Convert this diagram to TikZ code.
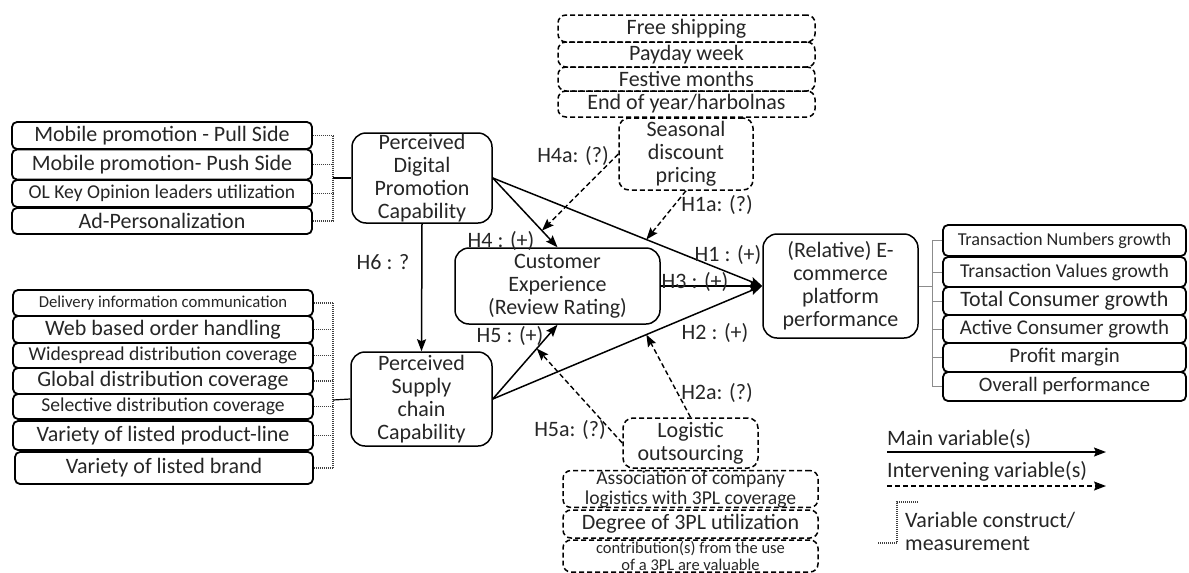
\documentclass[tikz,border=0pt]{standalone}
\usepackage{fontspec}
\setmainfont{Carlito}
\usetikzlibrary{arrows.meta}
\newcommand{\fsbig}{\fontsize{22}{23}\selectfont}
\newcommand{\fsmid}{\fontsize{19.6}{20}\selectfont}
\newcommand{\fssml}{\fontsize{16.7}{18}\selectfont}
\newcommand{\fsrgt}{\fontsize{18.2}{19}\selectfont}

\begin{document}
\begin{tikzpicture}[x=1pt,y=-1pt,
    var/.style={draw, line width=1.5pt, rounded corners=14pt, align=center, inner sep=0pt, text=black!85, font=\fsbig},
    dashvar/.style={var, dash pattern=on 5pt off 3pt, rounded corners=10pt},
    item/.style={draw, line width=1.8pt, rounded corners=5pt, inner sep=0pt, text=black!85, font=\fsbig},
    dashitem/.style={item, line width=1.5pt, dash pattern=on 5pt off 3pt, rounded corners=8pt, align=center},
    hlab/.style={inner sep=0pt, text=black!85, font=\fsbig},
    mainarrow/.style={line width=1.5pt, -{Stealth[length=12pt,width=9pt,inset=2pt]}},
    modarrow/.style={mainarrow, line width=1.4pt, dash pattern=on 5pt off 3pt},
    measure/.style={line width=1.1pt, black!75, dash pattern=on 1pt off 1pt},
    rbracket/.style={line width=0.9pt, black!45}]
\useasboundingbox (0,0) rectangle (1189,573);

\node[item, minimum width=300pt, minimum height=27pt] (pd1) at (162,135.5) {Mobile promotion - Pull Side};
\node[item, minimum width=300pt, minimum height=30pt] (pd2) at (162,164.5) {Mobile promotion- Push Side};
\node[item, minimum width=300pt, minimum height=27pt, font=\fsmid] (pd3) at (162,193.5) {OL Key Opinion leaders utilization};
\node[item, minimum width=300pt, minimum height=26pt] (pd4) at (162,221) {Ad-Personalization};

\node[item, minimum width=300pt, minimum height=26pt, font=\fssml] (sc1) at (163,303) {Delivery information communication};
\node[item, minimum width=300pt, minimum height=27pt] (sc2) at (163,329.5) {Web based order handling};
\node[item, minimum width=300pt, minimum height=25pt, font=\fsmid] (sc3) at (163,355.5) {Widespread distribution coverage};
\node[item, minimum width=300pt, minimum height=26pt] (sc4) at (163,381) {Global distribution coverage};
\node[item, minimum width=300pt, minimum height=25pt, font=\fsmid] (sc5) at (163,406.5) {Selective distribution coverage};
\node[item, minimum width=300pt, minimum height=29pt] (sc6) at (163,435.5) {Variety of listed product-line};
\node[item, minimum width=298pt, minimum height=32pt] (sc7) at (164,468) {Variety of listed brand};

\node[var, minimum width=140pt, minimum height=90pt] (pdpc) at (422,178) {Perceived\\Digital\\Promotion\\Capability};
\node[var, minimum width=141pt, minimum height=94pt] (pscc) at (421.5,399) {Perceived\\Supply\\chain\\Capability};
\node[var, minimum width=205pt, minimum height=76pt] (ce) at (557.5,286) {Customer\\Experience\\(Review Rating)};
\node[var, minimum width=155pt, minimum height=104pt] (ecom) at (840.5,286) {(Relative) E-\\commerce\\platform\\performance};

\node[item, minimum width=243pt, minimum height=31pt, font=\fsrgt] (r1) at (1064.5,240.5) {Transaction Numbers growth};
\node[item, minimum width=243pt, minimum height=30pt, font=\fsmid] (r2) at (1064.5,272) {Transaction Values growth};
\node[item, minimum width=243pt, minimum height=28pt] (r3) at (1064.5,301) {Total Consumer growth};
\node[item, minimum width=243pt, minimum height=28pt, font=\fontsize{20.9}{22}\selectfont] (r4) at (1064.5,329) {Active Consumer growth};
\node[item, minimum width=243pt, minimum height=29pt, font=\fontsize{20.8}{22}\selectfont] (r5) at (1064.5,357.5) {Profit margin};
\node[item, minimum width=243pt, minimum height=29pt, font=\fontsize{20.5}{22}\selectfont] (r6) at (1064.5,386.5) {Overall performance};

\node[dashitem, minimum width=257pt, minimum height=27pt] (t1) at (686.5,28.5) {Free shipping};
\node[dashitem, minimum width=257pt, minimum height=25pt] (t2) at (686.5,54.5) {Payday week};
\node[dashitem, minimum width=257pt, minimum height=24pt] (t3) at (686.5,79) {Festive months};
\node[dashitem, minimum width=257pt, minimum height=26pt] (t4) at (686.5,104) {End of year/harbolnas};
\node[dashvar, minimum width=134pt, minimum height=72pt] (season) at (686,154) {Seasonal\\discount\\pricing};

\node[dashvar, minimum width=135pt, minimum height=50pt] (logis) at (690.5,443) {Logistic\\outsourcing};
\node[dashitem, minimum width=255pt, minimum height=36pt, font=\fsmid] (b1) at (690.5,489) {Association of company\\logistics with 3PL coverage};
\node[dashitem, minimum width=255pt, minimum height=28pt] (b2) at (690.5,524) {Degree of 3PL utilization};
\node[dashitem, minimum width=255pt, minimum height=32pt, font=\fontsize{16.5}{16.5}\selectfont] (b3) at (690.5,556) {contribution(s) from the use\\of a 3PL are valuable};

\coordinate (pdbar) at (333,178);
\coordinate (scbar) at (333,400);
\coordinate (rbar) at (932,286);
\foreach \i in {1,...,4} \draw[measure] (pd\i.east) -- (pd\i.east -| pdbar);
\draw[measure] (pd1.east -| pdbar) -- (pd4.east -| pdbar);
\draw[line width=1.2pt] (pdbar) -- (pdpc.west);
\foreach \i in {1,...,7} \draw[measure] (sc\i.east) -- (sc\i.east -| scbar);
\draw[measure] (sc1.east -| scbar) -- (sc7.east -| scbar);
\draw[line width=1.2pt] (scbar) -- (pscc.west);
\foreach \i in {1,...,6} \draw[rbracket] (r\i.west -| rbar) -- (r\i.west);
\draw[rbracket] (r1.west -| rbar) -- (r6.west -| rbar);
\draw[rbracket] (ecom.east) -- (rbar);

\draw[mainarrow] (pdpc.south) -- (pscc.north);
\draw[mainarrow] (pdpc.east) -- (ce.north);
\draw[mainarrow] (pdpc.east) -- (ecom.west);
\draw[mainarrow] (ce.east) -- (ecom.west);
\draw[mainarrow] (pscc.east) -- (ce.south);
\draw[mainarrow] (pscc.east) -- (ecom.west);

\path (pdpc.east) -- (ce.north) coordinate[pos=0.76] (onh4);
\path (pdpc.east) -- (ecom.west) coordinate[pos=0.57] (onh1);
\path (pscc.east) -- (ecom.west) coordinate[pos=0.57] (onh2);
\path (pscc.east) -- (ce.south) coordinate[pos=0.68] (onh5);
\draw[modarrow] (season.west) -- (onh4);
\draw[modarrow] (season.south) -- (onh1);
\draw[modarrow] (logis.north) -- (onh2);
\draw[modarrow] (logis.west) -- (onh5);

\node[hlab] (lh4a) at (573,156) {H4a: (?)};
\node[hlab] (lh1a) at (717,205) {H1a: (?)};
\node[hlab] (lh4) at (501,241) {H4 : (+)};
\node[hlab] (lh1) at (728,255) {H1 : (+)};
\node[hlab] (lh3) at (695,282) {H3 : (+)};
\node[hlab] (lh2) at (715,333) {H2 : (+)};
\node[hlab] (lh6) at (383,262) {H6 : ?};
\node[hlab] (lh5) at (510,336) {H5 : (+)};
\node[hlab] (lh5a) at (570,430) {H5a: (?)};
\node[hlab] (lh2a) at (717,393) {H2a: (?)};

\node[hlab, anchor=west] (lgmain) at (887,439) {Main variable(s)};
\node[hlab, anchor=west] (lgint) at (887,471) {Intervening variable(s)};
\node[hlab, anchor=west, align=left] (lgmeas) at (905,531) {Variable construct/\\measurement};
\coordinate (lgm1) at (887,452);
\coordinate (lgm2) at (1106,452);
\coordinate (lgi1) at (887,486);
\coordinate (lgi2) at (1106,486);
\draw[mainarrow] (lgm1) -- (lgm2);
\draw[modarrow] (lgi1) -- (lgi2);
\coordinate (lgb1) at (918,502);
\coordinate (lgb2) at (877,543);
\draw[measure] (lgb1) -- (897,502) -- (897,543) -- (lgb2);
\end{tikzpicture}
\end{document}
